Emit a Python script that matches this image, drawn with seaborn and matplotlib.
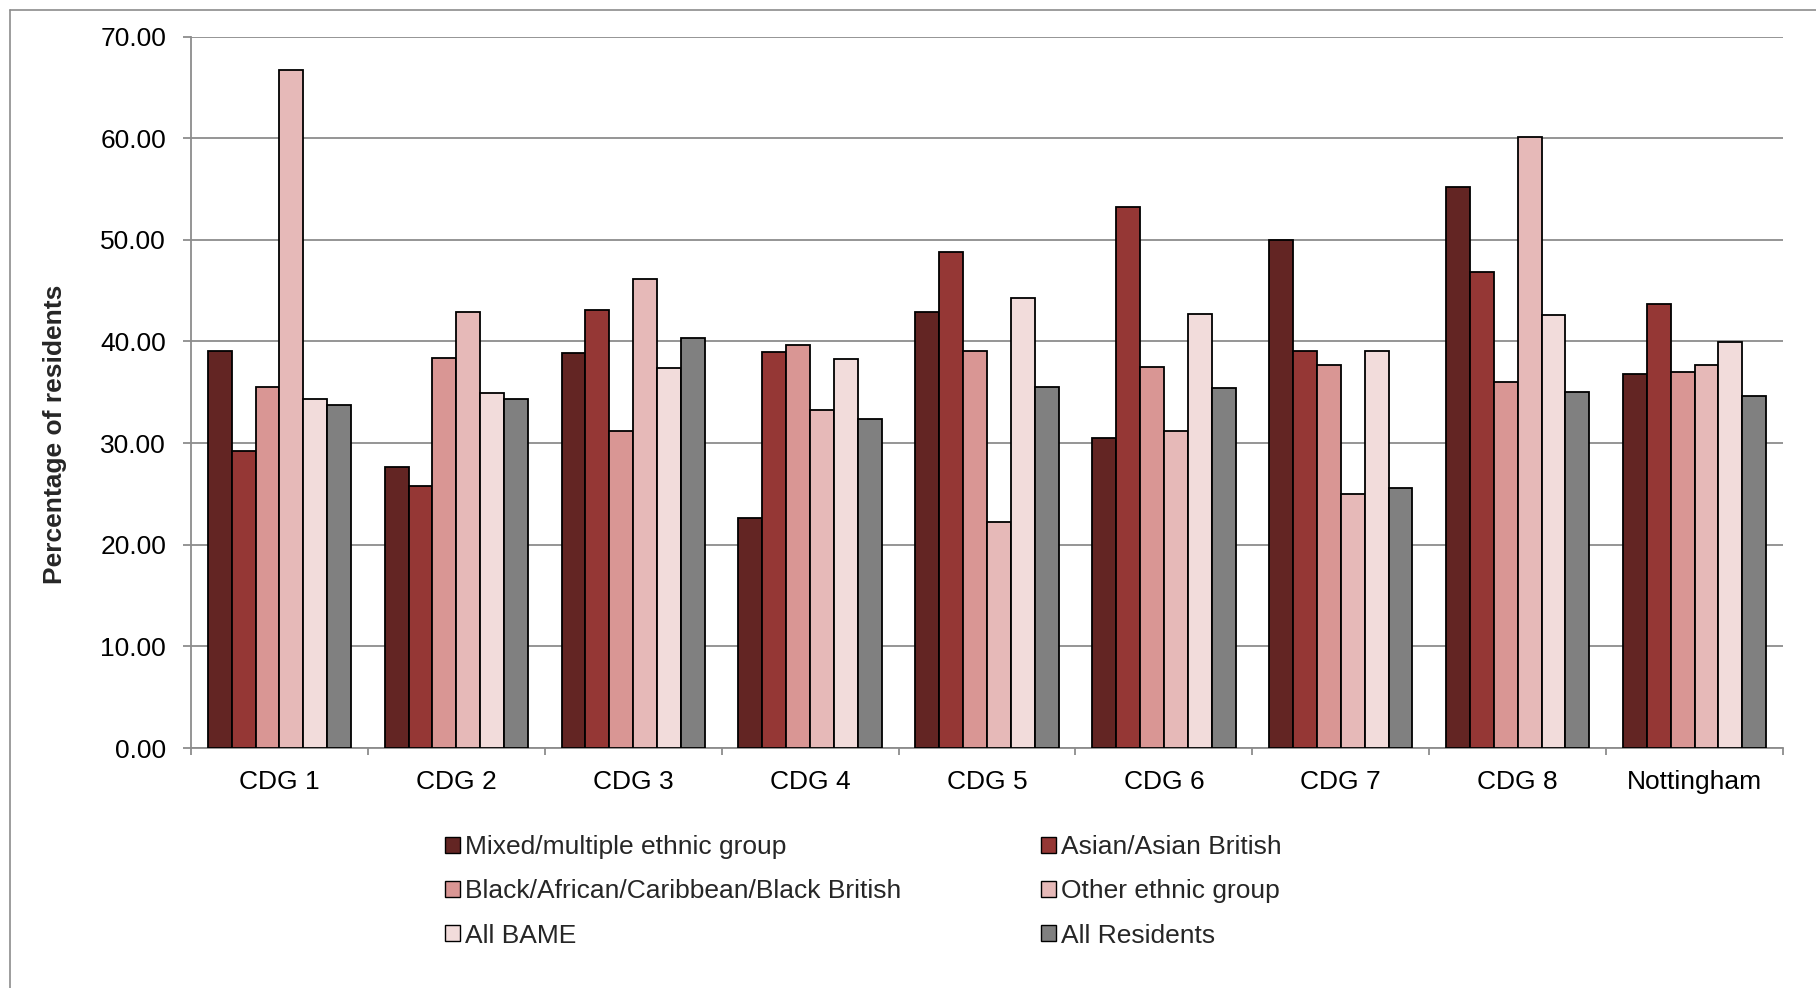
import matplotlib
matplotlib.use("Agg")
import matplotlib.pyplot as plt
from matplotlib.lines import Line2D
from matplotlib.ticker import FixedLocator, FormatStrFormatter
import seaborn as sns
import pandas as pd

# Values
areas = ["CDG 1", "CDG 2", "CDG 3", "CDG 4", "CDG 5", "CDG 6", "CDG 7", "CDG 8", "Nottingham"]
groups = [
    "Mixed/multiple ethnic group",
    "Asian/Asian British",
    "Black/African/Caribbean/Black British",
    "Other ethnic group",
    "All BAME",
    "All Residents",
]
mixed = [39.1, 27.6, 38.9, 22.6, 42.9, 30.5, 50.0, 55.2, 36.8]
asian = [29.2, 25.8, 43.1, 39.0, 48.8, 53.2, 39.1, 46.8, 43.7]
black = [35.5, 38.4, 31.2, 39.6, 39.1, 37.5, 37.7, 36.0, 37.0]
other = [66.7, 42.9, 46.1, 33.3, 22.2, 31.2, 25.0, 60.1, 37.7]
bame = [34.3, 34.9, 37.4, 38.3, 44.3, 42.7, 39.1, 42.6, 39.9]
all_res = [33.7, 34.3, 40.3, 32.4, 35.5, 35.4, 25.6, 35.0, 34.6]
colors = ["#632523", "#953735", "#D99694", "#E6B9B8", "#F2DCDB", "#808080"]

series = [mixed, asian, black, other, bame, all_res]
rows = []
for g, vals in zip(groups, series):
    for a, v in zip(areas, vals):
        rows.append({"area": a, "group": g, "value": v})
df = pd.DataFrame(rows)

sns.set_style("white")
plt.rcParams["font.family"] = ["Liberation Sans", "DejaVu Sans"]

W, H = 1816, 988
fig = plt.figure(figsize=(W / 100, H / 100), dpi=100)
ax = fig.add_axes([191 / W, 1 - 748 / H, 1592 / W, 711.5 / H])

sns.barplot(
    data=df, x="area", y="value", hue="group", order=areas, hue_order=groups,
    palette=colors, saturation=1, width=0.81, edgecolor="black", linewidth=1.3,
    ax=ax, zorder=3,
)

grid_col = "#8C8C8C"
ax.set_xlim(-0.5, len(areas) - 0.5)
ax.set_ylim(0, 70)
ax.set_yticks(range(0, 71, 10))
ax.yaxis.set_major_formatter(FormatStrFormatter("%.2f"))
ax.yaxis.grid(True, color=grid_col, linewidth=1.3, zorder=0)
ax.set_axisbelow(True)
for s in ["top", "right"]:
    ax.spines[s].set_visible(False)
for s in ["left", "bottom"]:
    ax.spines[s].set_color(grid_col)
    ax.spines[s].set_linewidth(1.3)

ax.tick_params(axis="y", length=6, width=1.3, color=grid_col, pad=12,
               labelsize=19, labelcolor="black", left=True)
ax.tick_params(axis="x", which="major", length=0, pad=15.5, labelsize=19, labelcolor="black")
ax.xaxis.set_minor_locator(FixedLocator([i - 0.5 for i in range(len(areas) + 1)]))
ax.tick_params(axis="x", which="minor", length=5, width=1.3, color=grid_col, bottom=True)

ax.set_xlabel("")
ax.set_ylabel("Percentage of residents", fontsize=19, fontweight="bold", va="center")
ax.yaxis.set_label_coords(-0.0857, 0.441)

handles, labels = ax.get_legend_handles_labels()
ax.legend_.remove()
order = [0, 2, 4, 1, 3, 5]
leg = ax.legend(
    [handles[i] for i in order], [labels[i] for i in order],
    ncol=2, loc="upper left", bbox_to_anchor=(445 / W, 1 - 835 / H),
    bbox_transform=fig.transFigure, frameon=False, fontsize=19,
    handlelength=0.57, handleheight=0.57, handletextpad=0.18,
    columnspacing=5.3, labelspacing=0.77, borderpad=0, borderaxespad=0,
)
for h in leg.legend_handles:
    h.set_linewidth(1.0)

# chart frame (left and top edges visible)
fig.add_artist(Line2D([10 / W, 10 / W], [1 - 10 / H, 0], color=grid_col, linewidth=1.2))
fig.add_artist(Line2D([10 / W, 1], [1 - 10 / H, 1 - 10 / H], color=grid_col, linewidth=1.2))

fig.savefig("out.png", dpi=100)
